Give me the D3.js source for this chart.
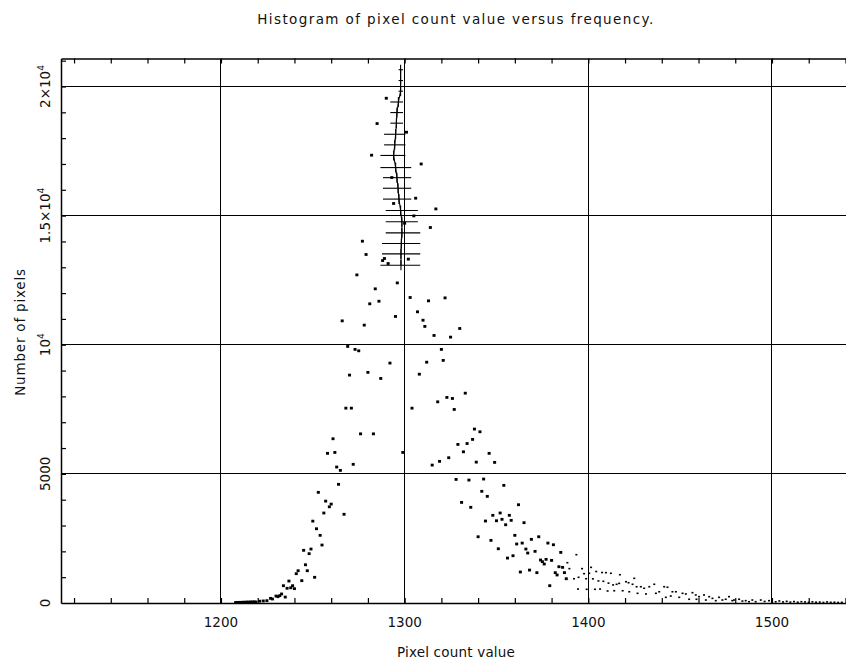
<!DOCTYPE html>
<html>
<head>
<meta charset="utf-8">
<script src="https://cdn.jsdelivr.net/npm/d3@7"></script>
<style>
  body { margin: 0; background: #fff; }
  text { font-family: "DejaVu Sans", sans-serif; fill: #111; }
</style>
</head>
<body>
<div id="chart"></div>
<script>
// pixel value, number of pixels
const peakPoints = [
  [1208, 20], [1209, 20], [1210, 25], [1211, 25], [1212, 30], [1213, 30], [1214, 35], [1215, 35],
  [1216, 40], [1217, 40], [1218, 45], [1219, 40], [1221, 70], [1223, 80], [1225, 90], [1227, 180],
  [1228, 155], [1230, 270], [1231, 245], [1232, 285], [1233, 350], [1234, 670], [1235, 230], [1236, 570],
  [1237, 850], [1238, 590], [1239, 670], [1240, 555], [1241, 1135], [1242, 1250], [1244, 865], [1245, 2040],
  [1246, 1480], [1247, 1250], [1248, 1910], [1249, 2090], [1250, 3170], [1251, 995], [1252, 2875], [1253, 4285],
  [1254, 2620], [1255, 2245], [1256, 3485], [1257, 3945], [1258, 5795], [1259, 3725], [1260, 3830], [1261, 6360],
  [1262, 5830], [1263, 5265], [1264, 4595], [1265, 5135], [1266, 10925], [1267, 3435], [1268, 7545], [1269, 9935],
  [1270, 8825], [1271, 7545], [1272, 5370], [1273, 9820], [1274, 12705], [1275, 9765], [1276, 6550], [1277, 14010],
  [1278, 10760], [1279, 13495], [1280, 8930], [1281, 11585], [1282, 17340], [1283, 6550], [1284, 12165], [1285, 18565],
  [1286, 11685], [1287, 8695], [1288, 13260], [1289, 13340], [1290, 19545], [1291, 13145], [1292, 9290], [1293, 16475],
  [1294, 15470], [1295, 11095], [1296, 12395], [1299, 5830], [1300, 14705], [1301, 18230], [1302, 13315], [1303, 11830],
  [1304, 7545], [1305, 14990], [1306, 15675], [1307, 11275], [1308, 8860], [1309, 17000], [1310, 10950], [1311, 10710],
  [1312, 9325], [1313, 11700], [1314, 14540], [1315, 5340], [1316, 10360], [1317, 15260], [1318, 7790], [1319, 5485],
  [1320, 9820], [1321, 9395], [1322, 11815], [1323, 7960], [1324, 5625], [1325, 10295], [1326, 7920], [1327, 7495],
  [1328, 4785], [1329, 6140], [1330, 10630], [1331, 3895], [1332, 5855], [1333, 8125], [1334, 6175], [1335, 4760],
  [1336, 3705], [1337, 6335], [1338, 6735], [1339, 5455], [1340, 2565], [1341, 6630], [1342, 4325], [1343, 4800],
  [1344, 3175], [1345, 4130], [1346, 5795], [1347, 2425], [1348, 3395], [1349, 5445], [1350, 3185], [1351, 2100],
  [1352, 3485], [1353, 3240], [1354, 4555], [1355, 3030], [1356, 1740], [1357, 3395], [1358, 3200], [1359, 1830],
  [1360, 2620], [1361, 2285], [1362, 3805], [1363, 1200], [1364, 2320], [1365, 3110], [1366, 2090], [1367, 1935],
  [1368, 1275], [1369, 2465], [1371, 2000], [1372, 1175], [1373, 2565], [1374, 1665], [1375, 1600], [1376, 1510],
  [1377, 1690], [1378, 2320], [1379, 670], [1380, 1650], [1381, 2255], [1382, 1175], [1383, 1085], [1384, 1405],
  [1385, 1960], [1386, 1380], [1387, 1175], [1388, 940]
];

const tailPoints = [
  [1388.6, 1560], [1389.7, 1330], [1392.2, 940], [1393.5, 1870], [1394.4, 540], [1394.7, 995], [1396.6, 1330],
  [1397.7, 1135], [1398.8, 940], [1399.1, 530], [1400.5, 1150], [1401.5, 1380], [1402.5, 935], [1403.6, 530],
  [1404.3, 1220], [1405.5, 855], [1406.4, 540], [1407.5, 1180], [1408.2, 840], [1409.6, 1175], [1410.5, 465],
  [1411.0, 770], [1412.3, 1150], [1413.5, 700], [1414.1, 475], [1415.4, 725], [1416.8, 760], [1417.2, 1095],
  [1418.7, 475], [1420.5, 825], [1421.9, 785], [1422.3, 435], [1424.1, 725], [1425.0, 955], [1426.3, 630],
  [1426.8, 375], [1428.6, 630], [1430.4, 570], [1431.4, 350], [1433.2, 630], [1435.9, 725], [1436.8, 375],
  [1438.6, 435], [1441.3, 630], [1442.2, 220], [1443.1, 610], [1444.9, 270], [1445.8, 435], [1447.7, 435],
  [1449.5, 220], [1451.3, 375], [1453.1, 350], [1454.9, 145], [1456.7, 400], [1458.5, 310], [1458.9, 145],
  [1460.3, 245], [1463.0, 310], [1464.0, 115], [1465.8, 245], [1467.6, 180], [1469.4, 90], [1471.2, 220],
  [1473.0, 115], [1474.8, 145], [1476.6, 245], [1478.4, 90], [1479.3, 115], [1482.1, 145], [1483.9, 75],
  [1485.7, 90], [1487.5, 50], [1489.3, 115], [1491.1, 50], [1493.9, 115], [1496, 60], [1498.4, 90],
  [1500, 70], [1502, 45], [1504, 80], [1506, 40], [1508, 65], [1510, 35], [1512, 55], [1514, 30],
  [1516, 50], [1518, 40], [1520, 25], [1522, 45], [1524, 30], [1526, 35], [1528, 20], [1530, 40],
  [1532, 25], [1534, 30], [1536, 20], [1538, 25]
];

// horizontal bars near the peak: level, centre, low and high pixel value
const barCounts  = [20650, 20230, 19820, 19400, 18990, 18580, 18150, 17740, 17330, 16860,
                    16470, 16060, 15640, 15200, 14760, 14330, 13920, 13520, 13080];
const barCenters = [1297.8, 1297.8, 1297.8, 1296.6, 1295.8, 1295.5, 1295.1, 1294.6, 1294.0, 1295.1,
                    1295.8, 1296.4, 1296.9, 1297.8, 1298.5, 1298.5, 1298.2, 1298.0, 1298.0];
const barLow     = [1296.7, 1296.7, 1296.7, 1292.2, 1292.2, 1292.2, 1288.8, 1288.8, 1286.8, 1286.8,
                    1288.2, 1288.2, 1288.2, 1289.7, 1289.7, 1289.7, 1287.7, 1287.7, 1286.8];
const barHigh    = [1299.1, 1299.1, 1299.1, 1299.1, 1299.1, 1299.1, 1300.4, 1300.4, 1300.4, 1303.6,
                    1303.6, 1303.6, 1303.6, 1307.2, 1307.2, 1308.5, 1308.5, 1308.5, 1308.5];

const xMajor = [1200, 1300, 1400, 1500];
const yMajor = [0, 5000, 10000, 15000, 20000];
const yLabels = [["0", ""], ["5000", ""], ["10", "4"], ["1.5×10", "4"], ["2×10", "4"]];

const W = 846, H = 667;
const svg = d3.select("#chart").append("svg")
    .attr("width", W).attr("height", H);

const x = d3.scaleLinear().domain([1112.9, 1540.3]).range([61, 846]);
const y = d3.scaleLinear().domain([0, 21084]).range([603, 58.5]);

const xMinor = d3.range(1120, 1541, 20);
const yMinor = d3.range(1000, 21001, 1000);

// grid
const grid = svg.append("g").attr("stroke", "#000").attr("stroke-width", 1)
    .attr("shape-rendering", "crispEdges");
grid.selectAll(".gx").data(xMajor).enter().append("line")
    .attr("x1", d => x(d)).attr("x2", d => x(d))
    .attr("y1", y.range()[1]).attr("y2", y.range()[0]);
grid.selectAll(".gy").data(yMajor.slice(1)).enter().append("line")
    .attr("x1", x.range()[0]).attr("x2", x.range()[1])
    .attr("y1", d => y(d)).attr("y2", d => y(d));

// axes (ticks pointing inwards, no labels)
function styleAxis(g) {
    g.selectAll("path").attr("stroke", "#000").attr("stroke-width", 1.5);
    g.selectAll("line").attr("stroke", "#000").attr("stroke-width", 1.2);
    g.selectAll("text").remove();
}
svg.append("g").attr("transform", `translate(0,${y(0)})`)
    .call(d3.axisBottom(x).tickValues(xMinor).tickSize(-5).tickSizeOuter(0).tickFormat(""))
    .call(styleAxis);
svg.append("g").attr("transform", `translate(0,${y.range()[1]})`)
    .call(d3.axisTop(x).tickValues(xMinor).tickSize(-5).tickSizeOuter(0).tickFormat(""))
    .call(styleAxis);
svg.append("g").attr("transform", `translate(${x.range()[0]},0)`)
    .call(d3.axisLeft(y).tickValues(yMinor).tickSize(-5).tickSizeOuter(0).tickFormat(""))
    .call(styleAxis);

// tick labels
svg.append("g").selectAll("text").data(xMajor).enter().append("text")
    .attr("x", d => x(d)).attr("y", 627)
    .attr("text-anchor", "middle").attr("font-size", 13.5)
    .text(d => d);

const yl = svg.append("g").selectAll("text").data(yMajor).enter().append("text")
    .attr("transform", d => `translate(50,${y(d)}) rotate(-90)`)
    .attr("text-anchor", "middle").attr("font-size", 13.5);
yl.append("tspan").text((d, i) => yLabels[i][0]);
yl.append("tspan").attr("dy", -6).attr("font-size", 9).text((d, i) => yLabels[i][1]);

// titles
svg.append("text").attr("x", 456).attr("y", 24).attr("text-anchor", "middle")
    .attr("font-size", 13.5).attr("letter-spacing", 1.4)
    .text("Histogram of pixel count value versus frequency.");
svg.append("text").attr("x", 456).attr("y", 657).attr("text-anchor", "middle")
    .attr("font-size", 13.5).attr("letter-spacing", 0.2)
    .text("Pixel count value");
svg.append("text").attr("transform", "translate(25,332) rotate(-90)")
    .attr("text-anchor", "middle").attr("font-size", 13.5).attr("letter-spacing", 0.8)
    .text("Number of pixels");

// points
svg.append("g").selectAll("rect").data(peakPoints).enter().append("rect")
    .attr("x", d => x(d[0]) - 1.5).attr("y", d => y(d[1]) - 1.4)
    .attr("width", 3).attr("height", 2.8).attr("fill", "#000");
svg.append("g").selectAll("rect").data(tailPoints).enter().append("rect")
    .attr("x", d => x(d[0]) - 1).attr("y", d => y(d[1]) - 0.8)
    .attr("width", 2).attr("height", 1.6).attr("fill", "#000");

// horizontal bars with centre line
const bars = d3.range(barCounts.length);
const bg = svg.append("g").attr("stroke", "#000").attr("stroke-width", 1.1);
bg.selectAll(".h").data(bars).enter().append("line")
    .attr("x1", i => x(barLow[i])).attr("x2", i => x(barHigh[i]))
    .attr("y1", i => y(barCounts[i])).attr("y2", i => y(barCounts[i]));
bg.selectAll(".v").data(bars).enter().append("line")
    .attr("x1", i => x(barCenters[i])).attr("x2", i => x(barCenters[i]))
    .attr("y1", i => y(barCounts[i]) - 5).attr("y2", i => y(barCounts[i]) + 5);
bg.append("path")
    .datum(bars)
    .attr("fill", "none")
    .attr("d", d3.line().x(i => x(barCenters[i])).y(i => y(barCounts[i])));
</script>
</body>
</html>
